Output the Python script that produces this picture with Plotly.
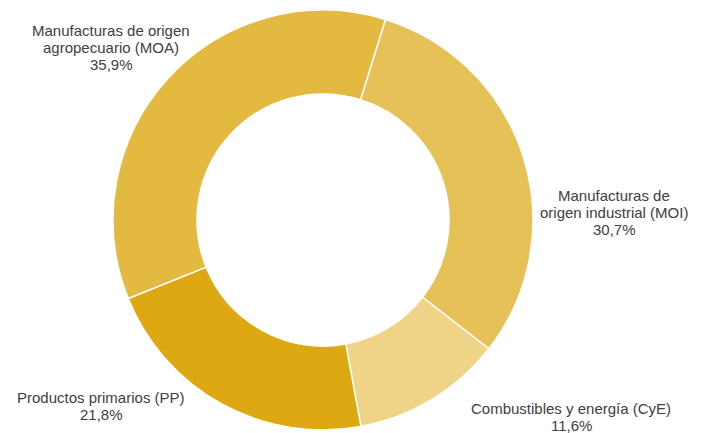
import plotly.graph_objects as go

categories = ["Manufacturas de origen industrial (MOI)", "Combustibles y energía (CyE)",
              "Productos primarios (PP)", "Manufacturas de origen agropecuario (MOA)"]
label_lines = [["Manufacturas de", "origen industrial (MOI)"],
               ["Combustibles y energía (CyE)"],
               ["Productos primarios (PP)"],
               ["Manufacturas de origen", "agropecuario (MOA)"]]
values = [30.7, 11.6, 21.8, 35.9]
colors = ["#E6C158", "#EFD487", "#DDA812", "#E3B940"]
# label anchor positions (pixels): center x, y of first line
label_pos = [(614, 195), (571, 408), (101, 397), (111, 30)]
line_step = 17

W, H = 702, 433
cx, cy, r = 323, 220, 210

fig = go.Figure(go.Pie(
    labels=categories, values=values, sort=False, direction="clockwise",
    rotation=17.3, hole=0.6, textinfo="none", hoverinfo="label+percent",
    marker=dict(colors=colors, line=dict(color="white", width=1.5)),
    domain=dict(x=[(cx - r) / W, (cx + r) / W], y=[(H - cy - r) / H, (H - cy + r) / H]),
    showlegend=False,
))

for lines, v, (px, py) in zip(label_lines, values, label_pos):
    all_lines = lines + [f"{v:.1f}%".replace(".", ",")]
    for i, ln in enumerate(all_lines):
        fig.add_annotation(
            x=px / W, y=1 - (py + i * line_step) / H, xref="paper", yref="paper",
            text=ln, showarrow=False,
            xanchor="center", yanchor="middle", align="center",
            font=dict(family="Liberation Sans, Arial", size=15, color="#404040"),
        )

fig.update_layout(width=W, height=H, margin=dict(l=0, r=0, t=0, b=0),
                  paper_bgcolor="white", plot_bgcolor="white")
fig.write_html("out.html", config={"displayModeBar": False},
               post_script="document.body.style.margin='0';document.body.style.overflow='hidden';")
